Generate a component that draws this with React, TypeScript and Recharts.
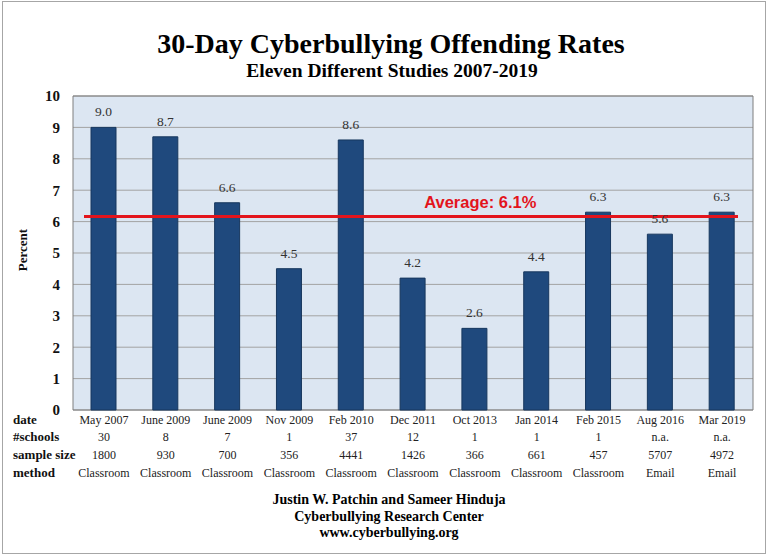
import React from "react";
import {
  ComposedChart,
  Bar,
  XAxis,
  YAxis,
  CartesianGrid,
  ReferenceLine,
  ReferenceArea,
  LabelList,
} from "recharts";

const dates = ["May 2007", "June 2009", "June 2009", "Nov 2009", "Feb 2010", "Dec 2011", "Oct 2013", "Jan 2014", "Feb 2015", "Aug 2016", "Mar 2019"];
const schools = ["30", "8", "7", "1", "37", "12", "1", "1", "1", "n.a.", "n.a."];
const sampleSizes = ["1800", "930", "700", "356", "4441", "1426", "366", "661", "457", "5707", "4972"];
const methods = ["Classroom", "Classroom", "Classroom", "Classroom", "Classroom", "Classroom", "Classroom", "Classroom", "Classroom", "Email", "Email"];
const rates = [9.0, 8.7, 6.6, 4.5, 8.6, 4.2, 2.6, 4.4, 6.3, 5.6, 6.3];
const yTicks = [0, 1, 2, 3, 4, 5, 6, 7, 8, 9, 10];
const average = 6.1;
const rowLabels = ["date", "#schools", "sample size", "method"];
const title = "30-Day Cyberbullying Offending Rates";
const subtitle = "Eleven Different Studies 2007-2019";
const footer = ["Justin W. Patchin and Sameer Hinduja", "Cyberbullying Research Center", "www.cyberbullying.org"];

const data = rates.map((r, i) => ({ key: String(i), rate: r }));

const SERIF = "'Liberation Serif', 'DejaVu Serif', serif";

const TableTick = (props: any) => {
  const { x, y, payload } = props;
  const i = props.index ?? payload.index;
  const rows = [dates[i], schools[i], sampleSizes[i], methods[i]];
  const offs = [14, 31, 49, 67];
  return (
    <g>
      {rows.map((t, k) => (
        <text key={k} x={x} y={y + offs[k]} textAnchor="middle" fontFamily={SERIF} fontSize={12} fill="#222">
          {t}
        </text>
      ))}
    </g>
  );
};

const AvgLabel = (props: any) => {
  const vb = props.viewBox || {};
  return (
    <text
      x={vb.x + vb.width * 0.599}
      y={vb.y - 10}
      textAnchor="middle"
      fontFamily="'Liberation Sans', Arial, sans-serif"
      fontWeight="bold"
      fontSize={16.5}
      fill="#e3141c"
    >
      {`Average: ${average}%`}
    </text>
  );
};

const AvgShape = (props: any) => {
  const { x1, x2, y1, y2 } = props;
  return <line x1={x1 + 11} x2={x2 - 15} y1={y1 - 2} y2={y2 - 2} stroke="#e3141c" strokeWidth={3} />;
};

const PercentLabel = (props: any) => {
  const vb = props.viewBox || {};
  const cx = 22;
  const cy = vb.y + vb.height / 2 - 3;
  return (
    <text
      x={cx}
      y={cy}
      transform={`rotate(-90, ${cx}, ${cy})`}
      textAnchor="middle"
      dominantBaseline="central"
      fontFamily={SERIF}
      fontWeight="bold"
      fontSize={13}
      fill="#111"
    >
      Percent
    </text>
  );
};

export default function App() {
  return (
    <div style={{ position: "absolute", left: 0, top: 0, width: 768, height: 560, background: "#fff", fontFamily: SERIF }}>
      <div
        style={{
          position: "absolute",
          left: 2,
          top: 1,
          width: 762,
          height: 551,
          border: "1px solid #a6a6a6",
        }}
      />
      <div style={{ position: "absolute", left: 0, width: 782, top: 27, textAlign: "center", fontWeight: "bold", fontSize: 28, lineHeight: "34px", color: "#000" }}>
        {title}
      </div>
      <div style={{ position: "absolute", left: 0, width: 784, top: 59, textAlign: "center", fontWeight: "bold", fontSize: 19.5, lineHeight: "24px", color: "#000" }}>
        {subtitle}
      </div>
      <ComposedChart
        width={768}
        height={560}
        data={data}
        margin={{ top: 96, right: 15, bottom: 70, left: 0 }}
        barCategoryGap={0}
        style={{ position: "absolute", left: 0, top: 0 }}
      >
        <CartesianGrid vertical={false} fill="#dce6f2" stroke="#a3a3a3" strokeWidth={1} />
        <ReferenceArea y1={0} y2={10} fill="none" stroke="#7f7f7f" strokeWidth={1} ifOverflow="visible" />
        <XAxis
          dataKey="key"
          axisLine={false}
          tickLine={false}
          tickSize={0}
          tickMargin={0}
          height={80}
          interval={0}
          tick={<TableTick />}
        />
        <YAxis
          domain={[0, 10]}
          ticks={yTicks}
          axisLine={false}
          tickLine={false}
          tickSize={0}
          tickMargin={13}
          width={73}
          tick={{ fontFamily: SERIF, fontWeight: "bold", fontSize: 15, fill: "#111" }}
          label={<PercentLabel />}
        />
        <Bar dataKey="rate" fill="#1f497d" stroke="#17375e" strokeWidth={1} barSize={25} isAnimationActive={false}>
          <LabelList
            dataKey="rate"
            position="top"
            offset={11}
            formatter={(v: any) => Number(v).toFixed(1)}
            style={{ fontFamily: SERIF, fontSize: 13.5, fill: "#333" }}
          />
        </Bar>
        <ReferenceLine y={average} shape={<AvgShape />} label={<AvgLabel />} ifOverflow="visible" />
      </ComposedChart>
      {rowLabels.map((t, k) => (
        <div
          key={t}
          style={{
            position: "absolute",
            left: 13,
            top: [411, 428, 446, 464][k],
            fontWeight: "bold",
            fontSize: 13,
            lineHeight: "18px",
            color: "#111",
            whiteSpace: "nowrap",
          }}
        >
          {t}
        </div>
      ))}
      {footer.map((t, k) => (
        <div
          key={t}
          style={{
            position: "absolute",
            left: 0,
            width: 778,
            top: [491, 508, 524][k],
            textAlign: "center",
            fontWeight: "bold",
            fontSize: 14,
            lineHeight: "18px",
            color: "#000",
          }}
        >
          {t}
        </div>
      ))}
    </div>
  );
}
